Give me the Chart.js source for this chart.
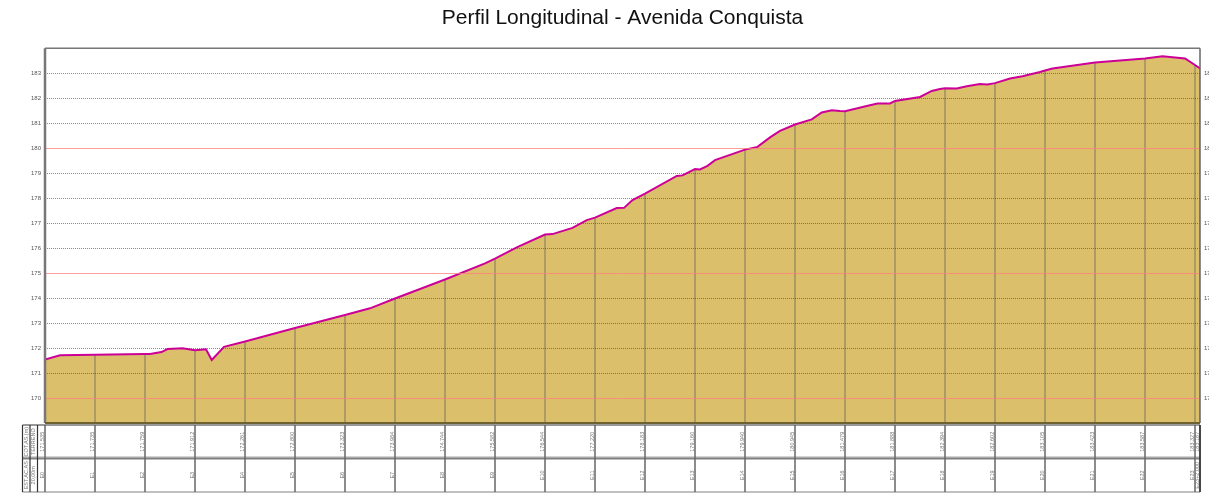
<!DOCTYPE html>
<html>
<head>
<meta charset="utf-8">
<style>html,body{margin:0;padding:0;background:#fff}canvas{display:block}</style>
<script src="https://cdn.jsdelivr.net/npm/chart.js@4"></script>
</head>
<body>
<canvas id="c" width="1209" height="495"></canvas>
<script>
const titleText = "Perfil Longitudinal - Avenida Conquista";
const profileChainage = [0,6,20,40,42,46.6,49,55,60,64.4,66.7,71.6,80,100,120,130,140,160,176,180,188.7,200,203,211,216.7,220,228.7,231.6,235,240,252.7,255,260,262,265,268,280,285,290,294,300,306.7,310.7,314.7,318,320,328.7,333,338,340,350,354.7,358,360,364.7,368.7,374,377,380,386,391,398,400,403,420,440,447,456,460,462];
const profileElevation = [171.535,171.71,171.735,171.759,171.76,171.84,171.96,171.99,171.912,171.95,171.52,172.05,172.261,172.8,173.323,173.59,173.984,174.744,175.39,175.582,176.03,176.544,176.56,176.81,177.12,177.22,177.6,177.61,177.92,178.183,178.89,178.91,179.16,179.15,179.29,179.52,179.94,180.05,180.43,180.69,180.945,181.15,181.43,181.52,181.49,181.479,181.69,181.79,181.79,181.888,182.05,182.29,182.37,182.394,182.39,182.48,182.57,182.55,182.602,182.79,182.88,183.05,183.105,183.19,183.423,183.587,183.68,183.59,183.327,183.187];
const stationChainage = [0,20,40,60,80,100,120,140,160,180,200,220,240,260,280,300,320,340,360,380,400,420,440,460,462];
const stationElevation = ["171.535","171.735","171.759","171.912","172.261","172.800","173.323","173.984","174.744","175.582","176.544","177.220","178.183","179.160","179.940","180.945","181.479","181.888","182.394","182.602","183.105","183.423","183.587","183.327","183.187"];
const stationNames = ["E0","E1","E2","E3","E4","E5","E6","E7","E8","E9","E10","E11","E12","E13","E14","E15","E16","E17","E18","E19","E20","E21","E22","E23","E23+2,000"];
const rowHeaders = [["COT.AS.(m)","TERRENO"],["EST.AC.AS","20,00m"]];

const FONT = "'Liberation Sans', Arial, sans-serif";
const profilePoints = profileChainage.map((x,i)=>({x,y:profileElevation[i]}));
const stationPoints = stationChainage.flatMap((x,i)=>[{x,y:169},{x,y:parseFloat(stationElevation[i])},{x,y:null}]);

const frameAndTable = {
  id:'frameAndTable',
  afterDraw(chart){
    const {ctx,chartArea:a,scales:{x}} = chart;
    const line=(x1,y1,x2,y2,c,w)=>{ctx.strokeStyle=c;ctx.lineWidth=w;ctx.beginPath();ctx.moveTo(x1,y1);ctx.lineTo(x2,y2);ctx.stroke();};
    const vtext=(t,px,py)=>{ctx.save();ctx.translate(px,py);ctx.rotate(-Math.PI/2);ctx.fillText(t,0,0);ctx.restore();};
    ctx.save();
    // plot frame
    line(a.left,a.top,a.right,a.top,'#777',1.5);
    line(a.left,a.top,a.left,a.bottom,'#777',2.5);
    line(a.right,a.top,a.right,a.bottom,'#666',1.5);
    line(a.left,a.bottom,a.right,a.bottom,'#6e6230',2);
    // table
    const top=425, mid=458.5, bot=492, left=22.5, tableRight=x.getPixelForValue(462);
    line(left,top,tableRight,top,'#777',1.5);
    line(left,mid-1.5,tableRight,mid-1.5,'#c4c4c4',1.5);
    line(left,mid,tableRight,mid,'#808080',2);
    line(left,bot,tableRight,bot,'#aaa',1.5);
    [22.5,30,37.5].forEach(px=>line(px,top,px,bot,'#333',1.2));
    stationChainage.forEach(c=>{
      const px=x.getPixelForValue(c);
      line(px,top,px,bot,c===462?'#333':'#666',c===462?1.8:1.5);
    });
    ctx.fillStyle='#777';
    ctx.font='5.5px '+FONT;
    ctx.textAlign='center';
    ctx.textBaseline='middle';
    const r1=(top+mid)/2, r2=(mid+bot)/2;
    vtext(rowHeaders[0][0],26.3,r1); vtext(rowHeaders[0][1],33.8,r1);
    vtext(rowHeaders[1][0],26.3,r2); vtext(rowHeaders[1][1],33.8,r2);
    stationChainage.forEach((c,i)=>{
      const px=x.getPixelForValue(c)-3;
      vtext(stationElevation[i],px,r1);
      vtext(stationNames[i],px,r2);
    });
    ctx.restore();
  }
};

const tickLabel = v => (v>=170 && v<=183) ? String(v) : '';
const isMajor = v => v%5===0;
const gridColor = c => {
  const v=c.tick.value;
  if(v===169||v===184) return 'rgba(0,0,0,0)';
  return isMajor(v) ? 'rgba(255,125,125,0.75)' : 'rgba(70,70,70,0.62)';
};
const gridDash = c => (c.tick && isMajor(c.tick.value)) ? [] : [1,1];

new Chart(document.getElementById('c'),{
  type:'line',
  data:{datasets:[
    {label:'Perfil',data:profilePoints,borderColor:'#cc0099',borderWidth:2,backgroundColor:'#dcbf6b',fill:'start',pointRadius:0,tension:0,order:0},
    {label:'Estacas',data:stationPoints,borderColor:'rgba(95,95,95,0.5)',borderWidth:1.5,pointRadius:0,fill:false,spanGaps:false,tension:0,order:1}
  ]},
  options:{
    responsive:false,animation:false,
    layout:{padding:{left:0,right:0,top:0,bottom:72}},
    plugins:{
      legend:{display:false},tooltip:{enabled:false},
      filler:{drawTime:'beforeDatasetsDraw'},
      title:{display:true,text:titleText,fullSize:false,color:'#111',font:{family:FONT,size:21,weight:'normal'},padding:{top:6,bottom:17}}
    },
    scales:{
      x:{type:'linear',min:0,max:462,display:false},
      y:{type:'linear',min:169,max:184,position:'left',
        afterFit(s){s.width=45;},
        afterBuildTicks(s){s.ticks=[];for(let v=169;v<=184;v++)s.ticks.push({value:v});},
        ticks:{autoSkip:false,color:'#555',font:{family:FONT,size:6},padding:4,callback:tickLabel},
        border:{display:false,dash:gridDash},
        grid:{z:1,drawTicks:false,color:gridColor,lineWidth:1}
      },
      y1:{type:'linear',min:169,max:184,position:'right',
        afterFit(s){s.width=9;},
        afterBuildTicks(s){s.ticks=[];for(let v=169;v<=184;v++)s.ticks.push({value:v});},
        ticks:{autoSkip:false,color:'#555',font:{family:FONT,size:6},padding:4,callback:tickLabel},
        border:{display:false},grid:{display:false,drawTicks:false}
      }
    }
  },
  plugins:[frameAndTable]
});
</script>
</body>
</html>
